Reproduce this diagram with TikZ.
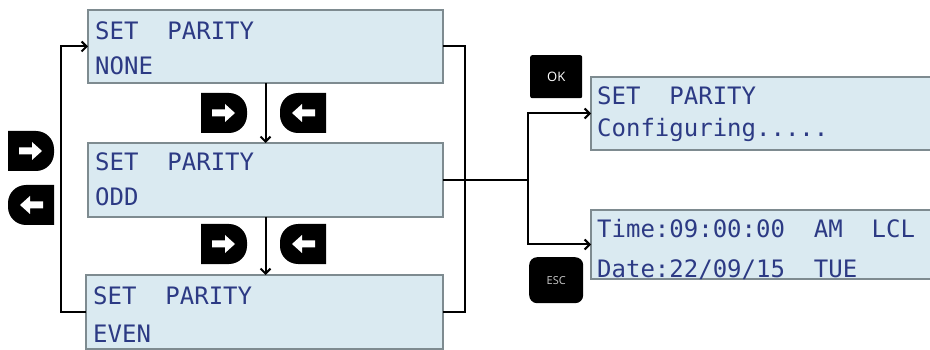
\documentclass[tikz,border=0pt]{standalone}
\usepackage{fontspec}
\setsansfont{Open Sans}
\newfontfamily\lcdfont{DejaVu Sans Mono}
\usetikzlibrary{arrows.meta}
\definecolor{lcdbg}{HTML}{DAEAF1}
\definecolor{lcdframe}{HTML}{7E8B90}
\definecolor{lcdtext}{HTML}{2C3A84}
\newcommand\keyRight[2]{%
  \begin{scope}[shift={(#1,#2)}]
    \fill[black] (0,0) -- (28,0) arc[start angle=90,end angle=0,radius=18]
      -- (46,-22) arc[start angle=0,end angle=-90,radius=18] -- (0,-40) -- cycle;
    \fill[white] (11,-16.5) -- (24,-16.5) -- (24,-11) -- (34,-20) -- (24,-29)
      -- (24,-23.5) -- (11,-23.5) -- cycle;
  \end{scope}}
\newcommand\keyLeft[2]{%
  \begin{scope}[shift={(#1,#2)}]
    \fill[black] (46,0) -- (18,0) arc[start angle=90,end angle=180,radius=18]
      -- (0,-22) arc[start angle=180,end angle=270,radius=18] -- (46,-40) -- cycle;
    \fill[white] (35,-16.5) -- (22,-16.5) -- (22,-11) -- (12,-20) -- (22,-29)
      -- (22,-23.5) -- (35,-23.5) -- cycle;
  \end{scope}}
\begin{document}
\begin{tikzpicture}[x=1pt,y=1pt,
  lcdbox/.style={rectangle, draw=lcdframe, fill=lcdbg, line width=1.2pt,
    anchor=north west, inner sep=0pt, outer sep=0pt},
  lcdline/.style={anchor=base west, inner sep=0pt, text=lcdtext,
    font=\lcdfont\fontsize{24}{28}\selectfont},
  conn/.style={line width=2pt, draw=black},
  arr/.style={conn, -{Straight Barb[length=5pt,width=10pt]}},
  keybox/.style={fill=black, anchor=north west, inner sep=0pt}
]
\useasboundingbox (0,0) rectangle (930,-350);

% LCD boxes
\node[lcdbox, minimum width=355pt, minimum height=73pt] (none) at (88,-10) {};
\node[lcdbox, minimum width=355pt, minimum height=74pt] (odd) at (88,-143) {};
\node[lcdbox, minimum width=357pt, minimum height=74pt] (even) at (86,-275) {};
\node[lcdbox, minimum width=345pt, minimum height=73pt] (cfg) at (591,-77) {};
\node[lcdbox, minimum width=345pt, minimum height=69pt] (time) at (591,-210) {};

% LCD texts
\node[lcdline] (t1a) at (95,-40) {SET~~PARITY};
\node[lcdline] (t1b) at (95,-75) {NONE};
\node[lcdline] (t2a) at (95,-171) {SET~~PARITY};
\node[lcdline] (t2b) at (95,-206) {ODD};
\node[lcdline] (t3a) at (93,-304) {SET~~PARITY};
\node[lcdline] (t3b) at (93,-342) {EVEN};
\node[lcdline] (t4a) at (597,-105) {SET~~PARITY};
\node[lcdline] (t4b) at (597,-137) {Configuring.....};
\node[lcdline] (t5a) at (597,-237) {Time:09:00:00~~AM~~LCL};
\node[lcdline] (t5b) at (597,-277) {Date:22/09/15~~TUE};

% connectors
\draw[arr] (even.west) -- ++(-25,0) |- (none.west);
\draw[conn] (none.east) -- ++(22,0) |- (even.east);
\coordinate (split) at (odd.east -| 528,0);
\draw[conn] (odd.east) -- (split);
\draw[arr] (split) |- (cfg.west);
\draw[arr] (split) |- (time.west);
\draw[arr] (none.south) -- (odd.north);
\draw[arr] (odd.south) -- (odd.south |- even.north);

% navigation keys
\keyRight{201}{-93}
\keyLeft{280}{-93}
\keyRight{201}{-224}
\keyLeft{280}{-224}
\keyRight{8}{-131}
\keyLeft{8}{-185}

% OK / ESC keys
\node[keybox, rounded corners=2pt, minimum width=52pt, minimum height=43pt,
  text=white, font=\sffamily\fontsize{13}{13}\selectfont] (ok) at (530,-55) {OK};
\node[keybox, rounded corners=8pt, minimum width=54pt, minimum height=46pt,
  text=black!20, font=\sffamily\fontsize{11}{11}\selectfont] (esc) at (529,-257) {ESC};
\end{tikzpicture}
\end{document}
